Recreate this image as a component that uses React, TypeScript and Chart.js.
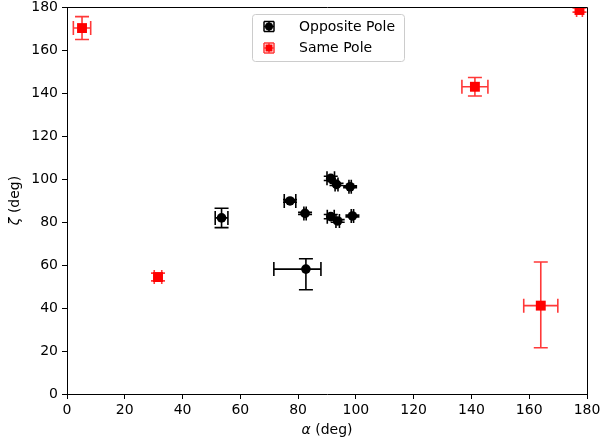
import React, { useEffect, useRef } from 'react';
import { Chart, registerables } from 'chart.js';
Chart.register(...registerables);

const FONT = "'DejaVu Sans', sans-serif";

// Opposite Pole (black circles)
const oppX = [53.5, 82.7, 77.2, 82.4, 91.3, 93.3, 98.0, 91.3, 93.7, 98.8];
const oppY = [81.9, 58.1, 89.8, 84.0, 100.3, 97.5, 96.4, 82.5, 80.5, 82.8];
const oppXErrLo = [2.2, 11.1, 2.0, 0.4, 1.3, 0.5, 0.4, 1.2, 0.6, 0.4];
const oppXErrHi = [2.2, 5.2, 2.0, 0.4, 1.3, 0.5, 0.4, 1.2, 0.6, 0.4];
const oppYErrLo = [4.5, 9.6, 0.6, 0.5, 1.0, 0.5, 0.4, 1.0, 0.6, 0.4];
const oppYErrHi = [4.5, 4.8, 0.6, 0.5, 1.0, 0.5, 0.4, 1.0, 0.6, 0.4];

// Same Pole (red squares)
const sameX = [5.2, 31.5, 141.2, 164.0, 177.4];
const sameY = [170.2, 54.4, 142.9, 41.1, 178.6];
const sameXErrLo = [3.0, 1.3, 4.5, 5.9, 1.0];
const sameXErrHi = [3.0, 1.3, 4.5, 5.9, 1.0];
const sameYErrLo = [5.3, 1.8, 4.3, 19.6, 1.0];
const sameYErrHi = [5.3, 1.8, 4.3, 20.3, 1.0];

const xTicks = [0, 20, 40, 60, 80, 100, 120, 140, 160, 180];
const yTicks = [0, 20, 40, 60, 80, 100, 120, 140, 160, 180];

const seriesNames = ['Opposite Pole', 'Same Pole'];
const seriesColors = ['#000000', '#ff0000'];
const barColors = ['#000000', 'rgba(255,0,0,0.78)'];

const errSets = [
  { lo: oppXErrLo, hi: oppXErrHi, ylo: oppYErrLo, yhi: oppYErrHi },
  { lo: sameXErrLo, hi: sameXErrHi, ylo: sameYErrLo, yhi: sameYErrHi },
];

const CAP = 7;

const errorBarPlugin = {
  id: 'errbars',
  beforeDatasetsDraw(chart: any) {
    const { ctx, chartArea } = chart;
    const xs = chart.scales.x;
    const ys = chart.scales.y;
    ctx.save();
    ctx.beginPath();
    ctx.rect(chartArea.left, chartArea.top, chartArea.right - chartArea.left, chartArea.bottom - chartArea.top);
    ctx.clip();
    chart.data.datasets.forEach((ds: any, di: number) => {
      const e = errSets[di];
      ctx.strokeStyle = barColors[di];
      ctx.lineWidth = 1.6;
      ds.data.forEach((p: any, i: number) => {
        const cx = xs.getPixelForValue(p.x);
        const cy = ys.getPixelForValue(p.y);
        const x0 = xs.getPixelForValue(p.x - e.lo[i]);
        const x1 = xs.getPixelForValue(p.x + e.hi[i]);
        const y0 = ys.getPixelForValue(p.y - e.ylo[i]);
        const y1 = ys.getPixelForValue(p.y + e.yhi[i]);
        ctx.beginPath();
        ctx.moveTo(x0, cy); ctx.lineTo(x1, cy);
        ctx.moveTo(cx, y0); ctx.lineTo(cx, y1);
        ctx.moveTo(x0, cy - CAP); ctx.lineTo(x0, cy + CAP);
        ctx.moveTo(x1, cy - CAP); ctx.lineTo(x1, cy + CAP);
        ctx.moveTo(cx - CAP, y0); ctx.lineTo(cx + CAP, y0);
        ctx.moveTo(cx - CAP, y1); ctx.lineTo(cx + CAP, y1);
        ctx.stroke();
      });
    });
    ctx.restore();
  },
  afterDraw(chart: any) {
    const { ctx, chartArea } = chart;
    const { left, right, top, bottom } = chartArea;
    ctx.save();
    // frame
    ctx.strokeStyle = '#000';
    ctx.lineWidth = 1;
    ctx.beginPath();
    ctx.moveTo(Math.round(left) + 0.5, Math.round(bottom) + 0.5);
    ctx.lineTo(Math.round(left) + 0.5, Math.round(top) + 0.5);
    ctx.lineTo(Math.round(right) + 0.5, Math.round(top) + 0.5);
    ctx.lineTo(Math.round(right) + 0.5, Math.round(bottom) + 0.5);
    ctx.stroke();

    // axis titles
    ctx.fillStyle = '#000';
    ctx.textBaseline = 'middle';
    const drawTitle = (greek: string, rest: string) => {
      ctx.font = `italic 14px ${FONT}`;
      const w1 = ctx.measureText(greek).width;
      ctx.font = `14px ${FONT}`;
      const w2 = ctx.measureText(rest).width;
      const start = -(w1 + w2) / 2;
      ctx.textAlign = 'left';
      ctx.font = `italic 14px ${FONT}`;
      ctx.fillText(greek, start, 0);
      ctx.font = `14px ${FONT}`;
      ctx.fillText(rest, start + w1, 0);
    };
    ctx.save();
    ctx.translate((left + right) / 2, bottom + 36);
    drawTitle('α', ' (deg)');
    ctx.restore();
    ctx.save();
    ctx.translate(left - 52, (top + bottom) / 2);
    ctx.rotate(-Math.PI / 2);
    drawTitle('ζ', ' (deg)');
    ctx.restore();

    // legend
    const cx = (left + right) / 2 + 1;
    const bw = 152, bh = 47;
    const bx = cx - bw / 2, by = top + 7;
    ctx.fillStyle = 'rgba(255,255,255,0.8)';
    ctx.strokeStyle = '#cccccc';
    ctx.lineWidth = 1;
    ctx.beginPath();
    (ctx as any).roundRect(Math.round(bx) + 0.5, Math.round(by) + 0.5, bw, bh, 3);
    ctx.fill();
    ctx.stroke();
    const rows = [by + 12.5, by + 34];
    rows.forEach((ry, i) => {
      const ix = bx + 17;
      ctx.strokeStyle = barColors[i];
      ctx.lineWidth = 1.5;
      const h = 5;
      ctx.beginPath();
      ctx.moveTo(ix - h, ry); ctx.lineTo(ix + h, ry);
      ctx.moveTo(ix, ry - h); ctx.lineTo(ix, ry + h);
      ctx.moveTo(ix - h, ry - h); ctx.lineTo(ix - h, ry + h);
      ctx.moveTo(ix + h, ry - h); ctx.lineTo(ix + h, ry + h);
      ctx.moveTo(ix - h, ry - h); ctx.lineTo(ix + h, ry - h);
      ctx.moveTo(ix - h, ry + h); ctx.lineTo(ix + h, ry + h);
      ctx.stroke();
      ctx.fillStyle = seriesColors[i];
      ctx.beginPath();
      if (i === 0) {
        ctx.arc(ix, ry, 4, 0, Math.PI * 2);
      } else {
        ctx.rect(ix - 3.5, ry - 3.5, 7, 7);
      }
      ctx.fill();
      ctx.fillStyle = '#000';
      ctx.font = `14px ${FONT}`;
      ctx.textAlign = 'left';
      ctx.textBaseline = 'middle';
      ctx.fillText(seriesNames[i], bx + 47, ry + 0.5);
    });
    ctx.restore();
  },
};

export default function App() {
  const ref = useRef<HTMLCanvasElement>(null);
  useEffect(() => {
    document.body.style.margin = '0';
    const canvas = ref.current;
    if (!canvas) return;
    const chart = new Chart(canvas, {
      type: 'scatter',
      data: {
        datasets: [
          {
            label: seriesNames[0],
            data: oppX.map((x, i) => ({ x, y: oppY[i] })),
            pointStyle: 'circle',
            pointRadius: 4.8,
            pointBackgroundColor: seriesColors[0],
            pointBorderColor: seriesColors[0],
            pointBorderWidth: 0,
            clip: 0,
          } as any,
          {
            label: seriesNames[1],
            data: sameX.map((x, i) => ({ x, y: sameY[i] })),
            pointStyle: 'rect',
            pointRadius: 7,
            pointBackgroundColor: seriesColors[1],
            pointBorderColor: seriesColors[1],
            pointBorderWidth: 0,
            clip: 0,
          } as any,
        ],
      },
      options: {
        animation: false,
        responsive: false,
        devicePixelRatio: 1,
        layout: { padding: { left: 0, right: 15, top: 7, bottom: 0 } },
        plugins: { legend: { display: false }, tooltip: { enabled: false } },
        scales: {
          x: {
            type: 'linear',
            min: 0,
            max: 180,
            afterBuildTicks: (s: any) => { s.ticks = xTicks.map((v) => ({ value: v })); },
            afterFit: (s: any) => { s.height = 49; s.paddingLeft = 0; s.paddingRight = 0; },
            ticks: { color: '#000', font: { family: FONT, size: 14 }, padding: 3, maxRotation: 0 },
            grid: { drawOnChartArea: false, tickLength: 5, color: '#000', tickWidth: 1 },
            border: { color: '#000', width: 1 },
          },
          y: {
            type: 'linear',
            min: 0,
            max: 180,
            afterBuildTicks: (s: any) => { s.ticks = yTicks.map((v) => ({ value: v })); },
            afterFit: (s: any) => { s.width = 67; s.paddingTop = 0; s.paddingBottom = 0; },
            ticks: { color: '#000', font: { family: FONT, size: 14 }, padding: 4 },
            grid: { drawOnChartArea: false, tickLength: 5, color: '#000', tickWidth: 1 },
            border: { color: '#000', width: 1 },
          },
        },
      },
      plugins: [errorBarPlugin],
    });
    return () => chart.destroy();
  }, []);
  return (
    <div style={{ position: 'absolute', left: 0, top: 0, width: 602, height: 443 }}>
      <canvas ref={ref} width={602} height={443} style={{ width: 602, height: 443 }} />
    </div>
  );
}
